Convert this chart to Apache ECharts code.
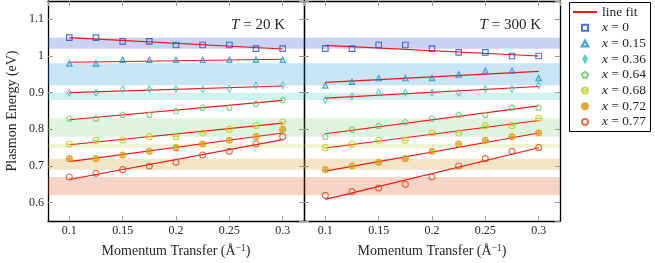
<!DOCTYPE html>
<html>
<head>
<meta charset="utf-8">
<script src="https://cdn.jsdelivr.net/npm/echarts@6/dist/echarts.min.js"></script>
<style>html,body{margin:0;padding:0;background:#fff}#c{width:655px;height:263px}</style>
</head>
<body>
<div id="c"></div>
<script>
// ---- data ----
const momentum = [0.1, 0.125, 0.15, 0.175, 0.2, 0.225, 0.25, 0.275, 0.3];
const dopings = ['0', '0.15', '0.36', '0.64', '0.68', '0.72', '0.77'];

// T = 20 K
const e20K_x000 = [1.05, 1.05, 1.04, 1.04, 1.03, 1.03, 1.03, 1.02, 1.02];
const e20K_x015 = [0.98, 0.98, 0.99, 0.99, 0.99, 0.99, 0.99, 0.99, 0.99];
const e20K_x036 = [0.90, 0.90, 0.91, 0.91, 0.91, 0.91, 0.91, 0.92, 0.92];
const e20K_x064 = [0.83, 0.83, 0.84, 0.84, 0.85, 0.86, 0.86, 0.87, 0.88];
const e20K_x068 = [0.76, 0.77, 0.77, 0.78, 0.78, 0.79, 0.80, 0.81, 0.82];
const e20K_x072 = [0.72, 0.72, 0.73, 0.74, 0.75, 0.76, 0.77, 0.78, 0.80];
const e20K_x077 = [0.67, 0.68, 0.69, 0.70, 0.71, 0.73, 0.74, 0.76, 0.78];

// T = 300 K
const e300K_x000 = [1.02, 1.02, 1.03, 1.03, 1.02, 1.01, 1.01, 1.00, 1.00];
const e300K_x015 = [0.92, 0.93, 0.94, 0.94, 0.94, 0.95, 0.96, 0.96, 0.94];
const e300K_x036 = [0.88, 0.89, 0.90, 0.90, 0.90, 0.90, 0.91, 0.91, 0.92];
const e300K_x064 = [0.78, 0.80, 0.81, 0.82, 0.83, 0.84, 0.84, 0.86, 0.86];
const e300K_x068 = [0.75, 0.76, 0.77, 0.77, 0.79, 0.79, 0.81, 0.81, 0.83];
const e300K_x072 = [0.69, 0.70, 0.71, 0.72, 0.74, 0.76, 0.77, 0.78, 0.79];
const e300K_x077 = [0.62, 0.63, 0.64, 0.65, 0.67, 0.70, 0.72, 0.74, 0.75];

// linear fits (value at q = 0.1 and q = 0.3)
const fitRange = [0.1, 0.3];
const fit20K_start  = [1.050, 0.983, 0.900, 0.826, 0.758, 0.712, 0.663];
const fit20K_end    = [1.019, 0.991, 0.918, 0.879, 0.817, 0.790, 0.772];
const fit300K_start = [1.029, 0.928, 0.885, 0.788, 0.749, 0.686, 0.609];
const fit300K_end   = [1.000, 0.958, 0.917, 0.864, 0.824, 0.790, 0.750];

// shaded energy bands
const bandLow  = [1.02, 0.92, 0.88, 0.78, 0.75, 0.69, 0.62];
const bandHigh = [1.05, 0.98, 0.90, 0.83, 0.76, 0.72, 0.67];

// ticks / labels
const xRange = [0.08, 0.32];
const yRange = [0.55, 1.15];
const panelTitles = ['20', '300'];

// ---- styles ----
const FONT = '"Liberation Serif", "DejaVu Serif", serif';
const TXT = '#262626';
const colors = ['#1f4bd2', '#1e90d0', '#1cc6bd', '#5cc85c', '#c0cb1c', '#dc9a14', '#dc4c16'];
const bandColors = ['rgba(60,90,210,0.27)', 'rgba(40,150,210,0.25)', 'rgba(40,200,180,0.22)',
  'rgba(90,200,90,0.2)', 'rgba(190,205,40,0.22)', 'rgba(210,150,30,0.25)', 'rgba(215,80,30,0.25)'];
const circ = 'M-1,0 A1,1 0 1,0 1,0 A1,1 0 1,0 -1,0 Z';
const symbols = [
  'path://M-1,-1 L1,-1 L1,1 L-1,1 Z',
  'path://M0,-1 L1,0.8 L-1,0.8 Z',
  'path://M0,-1.5 L0.85,0 L0,1.5 L-0.85,0 Z',
  'path://M0,-1 L0.951,-0.309 L0.588,0.809 L-0.588,0.809 L-0.951,-0.309 Z',
  'path://' + circ + ' M-1,0 L1,0',
  'path://' + circ + ' M-1,0 L1,0 M0,-1 L0,1',
  'path://' + circ];
const symSizes = [5.5, 5.5, [4, 6.5], 5.5, 6, 6, 6];
const fills = ['transparent', 'rgba(30,144,208,0.25)', 'transparent', 'transparent', 'transparent', 'rgba(220,154,20,0.55)', 'transparent'];

const data20 = [e20K_x000, e20K_x015, e20K_x036, e20K_x064, e20K_x068, e20K_x072, e20K_x077];
const data300 = [e300K_x000, e300K_x015, e300K_x036, e300K_x064, e300K_x068, e300K_x072, e300K_x077];
const fitsS = [fit20K_start, fit300K_start];
const fitsE = [fit20K_end, fit300K_end];

const gridLefts = [48, 304];
const grids = gridLefts.map(l => ({ left: l, top: 1, width: 256, height: 220 }));

const axisLine = { show: true, lineStyle: { color: '#000', width: 1.3 } };
const axisTick = { show: true, inside: true, length: 5, lineStyle: { color: '#999', width: 1 } };
const labelStyle = { fontFamily: FONT, fontSize: 12, color: TXT };

const xAxes = [], yAxes = [];
[0, 1].forEach(g => {
  xAxes.push({
    type: 'value', gridIndex: g, position: 'bottom', min: xRange[0], max: xRange[1], splitNumber: 5,
    axisLine, axisTick, splitLine: { show: false },
    axisLabel: Object.assign({ margin: 4, showMinLabel: false, showMaxLabel: false }, labelStyle),
    name: 'Momentum Transfer (Å{sup|−1})', nameLocation: 'middle', nameGap: 22,
    nameTextStyle: { fontFamily: FONT, fontSize: 14, color: TXT,
      rich: { sup: { fontFamily: FONT, fontSize: 9.5, color: TXT, padding: [0, 0, 6, 0] } } }
  });
  xAxes.push({
    type: 'value', gridIndex: g, position: 'top', min: xRange[0], max: xRange[1], splitNumber: 5,
    axisLine, axisTick, splitLine: { show: false }, axisLabel: { show: false }
  });
  yAxes.push({
    type: 'value', gridIndex: g, position: 'left', min: yRange[0], max: yRange[1], splitNumber: 6,
    axisLine, axisTick, splitLine: { show: false },
    axisLabel: Object.assign({ show: g === 0, margin: 4, showMinLabel: false, showMaxLabel: false }, labelStyle),
    name: g === 0 ? 'Plasmon Energy (eV)' : '', nameLocation: 'middle', nameGap: 29, nameRotate: 90,
    nameTextStyle: { fontFamily: FONT, fontSize: 14, color: TXT }
  });
  yAxes.push({
    type: 'value', gridIndex: g, position: 'right', min: yRange[0], max: yRange[1], splitNumber: 6,
    axisLine, axisTick, splitLine: { show: false }, axisLabel: { show: false }
  });
});

const names = dopings.map(d => 'x = ' + d);
const series = [];
[0, 1].forEach(g => {
  const xi = g * 2, yi = g * 2;
  series.push({
    type: 'line', name: 'bands', xAxisIndex: xi, yAxisIndex: yi, data: [], z: 0, silent: true,
    markArea: {
      silent: true,
      data: bandLow.map((lo, i) => [{ yAxis: lo, itemStyle: { color: bandColors[i] } }, { yAxis: bandHigh[i] }])
    }
  });
  const dat = g === 0 ? data20 : data300;
  dat.forEach((vals, i) => {
    series.push({
      type: 'line', name: 'line fit', xAxisIndex: xi, yAxisIndex: yi, z: 3,
      symbol: 'none', lineStyle: { color: '#ff1010', width: 1.1 }, itemStyle: { color: '#ff1010' },
      data: [[fitRange[0], fitsS[g][i]], [fitRange[1], fitsE[g][i]]], animation: false
    });
    series.push({
      type: 'scatter', name: names[i], xAxisIndex: xi, yAxisIndex: yi, z: 4,
      symbol: symbols[i], symbolSize: symSizes[i],
      itemStyle: { color: fills[i], borderColor: colors[i], borderWidth: 1.1 },
      data: momentum.map((q, k) => [q, vals[k]]), animation: false
    });
  });
});

const legendData = [{ name: 'line fit', itemStyle: { color: 'transparent', borderWidth: 0, opacity: 0 } }]
  .concat(names.map(n => ({ name: n })));

const option = {
  animation: false,
  backgroundColor: '#fff',
  grid: grids,
  xAxis: xAxes,
  yAxis: yAxes,
  series,
  legend: {
    orient: 'vertical', left: 572, top: 5, padding: 0,
    itemWidth: 24, itemHeight: 6, itemGap: 1.7, symbolKeepAspect: true,
    data: legendData,
    selectedMode: false,
    formatter: n => n.replace(/^x/, '{i|x}'),
    textStyle: { fontFamily: FONT, fontSize: 13.5, color: TXT, lineHeight: 14,
      rich: { i: { fontFamily: FONT, fontStyle: 'italic', fontSize: 13.5, color: TXT } } }
  },
  graphic: [
    { type: 'rect', shape: { x: 569.5, y: 2.5, width: 81, height: 129 },
      style: { fill: 'none', stroke: '#000', lineWidth: 1 }, z: 10 },
    { type: 'text', x: 285, y: 25, z: 10,
      style: { text: '{i|T} = ' + panelTitles[0] + ' K', fontFamily: FONT, fontSize: 15, fill: TXT,
        align: 'right', verticalAlign: 'middle',
        rich: { i: { fontFamily: FONT, fontStyle: 'italic', fontSize: 15, fill: TXT } } } },
    { type: 'text', x: 541, y: 25, z: 10,
      style: { text: '{i|T} = ' + panelTitles[1] + ' K', fontFamily: FONT, fontSize: 15, fill: TXT,
        align: 'right', verticalAlign: 'middle',
        rich: { i: { fontFamily: FONT, fontStyle: 'italic', fontSize: 15, fill: TXT } } } }
  ]
};

const chart = echarts.init(document.getElementById('c'), null, { renderer: 'canvas' });
chart.setOption(option);
</script>
</body>
</html>
